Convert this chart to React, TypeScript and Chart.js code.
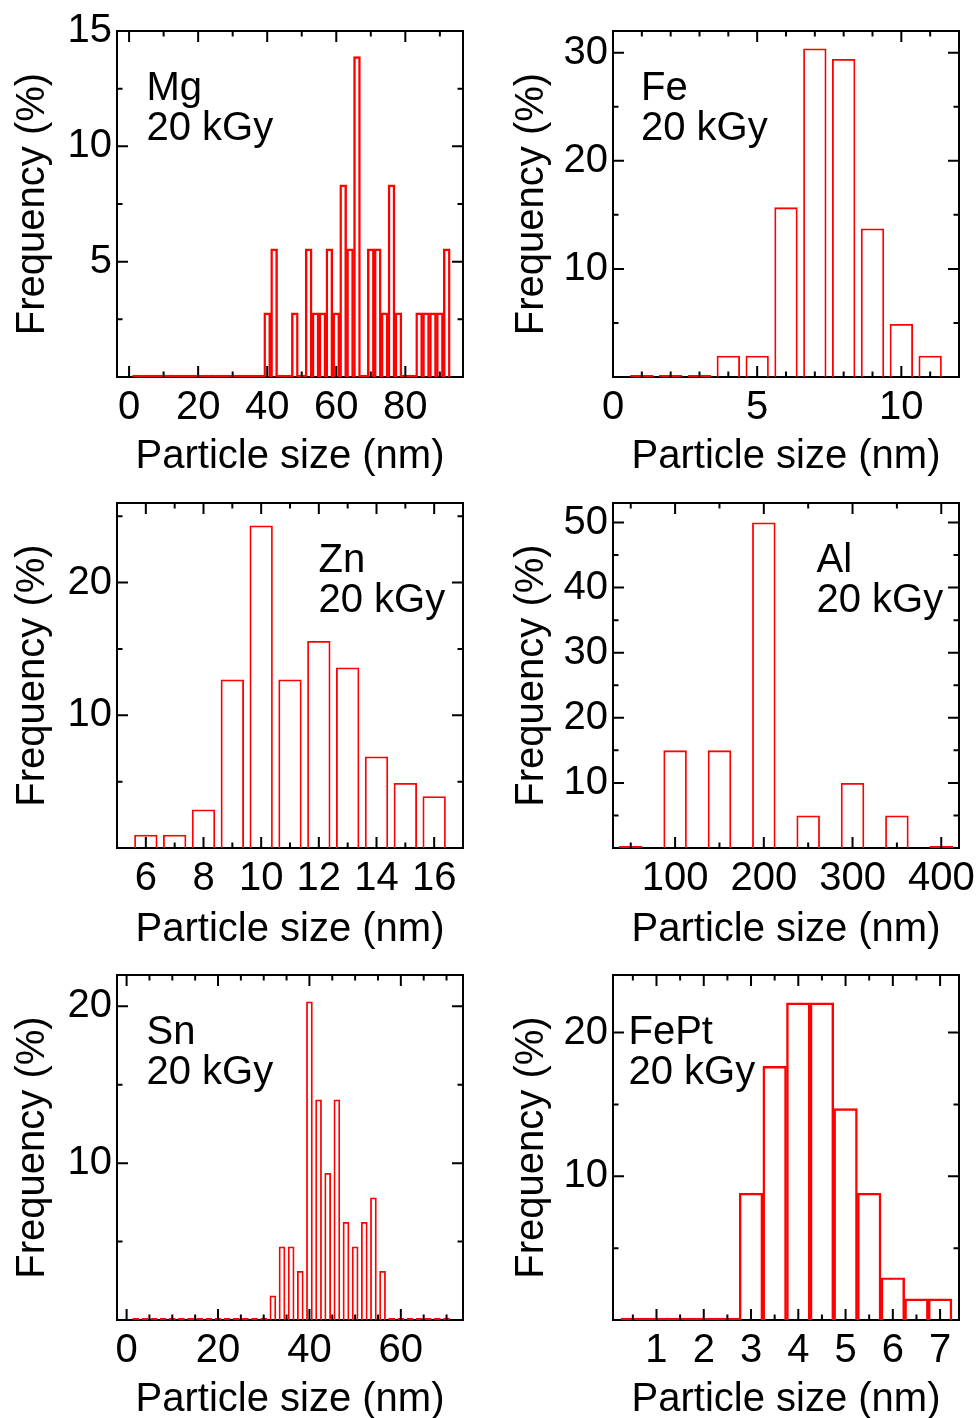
import React, { useEffect, useRef } from "react";
import { Chart, registerables } from "chart.js";

Chart.register(...registerables);

const RED = "#ff0000";
const FONT_FAMILY = "'Liberation Sans', Arial, Helvetica, sans-serif";
const FONT_SIZE = 40;

// ---------- Data (bin centres and frequency %) ----------
const mgBins = [2, 4, 6, 8, 10, 12, 14, 16, 18, 20, 22, 24, 26, 28, 30, 32, 34, 36, 38, 40, 42, 44, 46, 48, 50, 52, 54, 56, 58, 60, 62, 64, 66, 68, 70, 72, 74, 76, 78, 80, 82, 84, 86, 88, 90, 92];
const mgFreq = [0, 0, 0, 0, 0, 0, 0, 0, 0, 0, 0, 0, 0, 0, 0, 0, 0, 0, 0, 2.78, 5.56, 0, 0, 2.78, 0, 5.56, 2.78, 2.78, 5.56, 2.78, 8.33, 5.56, 13.89, 0, 5.56, 5.56, 2.78, 8.33, 2.78, 0, 0, 2.78, 2.78, 2.78, 2.78, 5.56];

const feBins = [1, 2, 3, 4, 5, 6, 7, 8, 9, 10, 11];
const feFreq = [0, 0, 0, 1.96, 1.96, 15.69, 30.39, 29.41, 13.73, 4.9, 1.96];

const znBins = [6, 7, 8, 9, 10, 11, 12, 13, 14, 15, 16];
const znFreq = [1.0, 1.0, 2.9, 12.7, 24.3, 12.7, 15.6, 13.6, 6.9, 4.9, 3.9];

const alBins = [50, 100, 150, 200, 250, 300, 350, 400];
const alFreq = [0, 15, 15, 50, 5, 10, 5, 0];

const snBins = [2, 4, 6, 8, 10, 12, 14, 16, 18, 20, 22, 24, 26, 28, 30, 32, 34, 36, 38, 40, 42, 44, 46, 48, 50, 52, 54, 56, 58, 60, 62, 64, 66, 68, 70];
const snFreq = [0, 0, 0, 0, 0, 0, 0, 0, 0, 0, 0, 0, 0, 0, 0, 1.56, 4.69, 4.69, 3.13, 20.31, 14.06, 9.38, 14.06, 6.25, 4.69, 6.25, 7.81, 3.13, 0, 0, 0, 0, 0, 0, 0];

const feptBins = [0.5, 1, 1.5, 2, 2.5, 3, 3.5, 4, 4.5, 5, 5.5, 6, 6.5, 7];
const feptFreq = [0, 0, 0, 0, 0, 8.82, 17.65, 22.06, 22.06, 14.71, 8.82, 2.94, 1.47, 1.47];

// ---------- Tick values ----------
const mgXLabels = [0, 20, 40, 60, 80];
const mgXMinor = [10, 30, 50, 70, 90];
const mgYLabels = [5, 10, 15];
const mgYMinor = [2.5, 7.5, 12.5];

const feXLabels = [0, 5, 10];
const feXMinor = [1, 2, 3, 4, 6, 7, 8, 9, 11];
const feYLabels = [10, 20, 30];
const feYMinor = [5, 15, 25];

const znXLabels = [6, 8, 10, 12, 14, 16];
const znXMinor = [7, 9, 11, 13, 15];
const znYLabels = [10, 20];
const znYMinor = [5, 15, 25];

const alXLabels = [100, 200, 300, 400];
const alXMinor = [50, 150, 250, 350];
const alYLabels = [10, 20, 30, 40, 50];
const alYMinor = [5, 15, 25, 35, 45];

const snXLabels = [0, 20, 40, 60];
const snXMinor = [5, 10, 15, 25, 30, 35, 45, 50, 55, 65, 70];
const snYLabels = [10, 20];
const snYMinor = [5, 15];

const feptXLabels = [1, 2, 3, 4, 5, 6, 7];
const feptXMinor = [0.5, 1.5, 2.5, 3.5, 4.5, 5.5, 6.5];
const feptYLabels = [10, 20];
const feptYMinor = [5, 15];

const X_TITLE = "Particle size (nm)";
const Y_TITLE = "Frequency (%)";
const DOSE = "20 kGy";

// ---------- Layout ----------
const PAD_TOP = 40;
const X_AXIS_H = 108;
const COLS = [
  { left: 0, width: 488, yW: 117, padRight: 25, yTitlePad: 9.3 },
  { left: 488, width: 500, yW: 125, padRight: 29, yTitlePad: 19.6 },
];
const ROWS = [
  { chartTop: 31, chartBottom: 377, xTitlePad: 4 },
  { chartTop: 503, chartBottom: 848, xTitlePad: 2 },
  { chartTop: 975, chartBottom: 1320, xTitlePad: 4 },
];

type PanelCfg = {
  name: string;
  bins: number[];
  freq: number[];
  xMin: number;
  xMax: number;
  yMax: number;
  xLabels: number[];
  xMinor: number[];
  yLabels: number[];
  yMinor: number[];
  barRatio: number;
  col: number;
  row: number;
  labelDx: number;
};

const panels: PanelCfg[] = [
  { name: "Mg", bins: mgBins, freq: mgFreq, xMin: -3.5, xMax: 96.7, yMax: 15, xLabels: mgXLabels, xMinor: mgXMinor, yLabels: mgYLabels, yMinor: mgYMinor, barRatio: 1, col: 0, row: 0, labelDx: 29.5 },
  { name: "Fe", bins: feBins, freq: feFreq, xMin: 0, xMax: 12, yMax: 32, xLabels: feXLabels, xMinor: feXMinor, yLabels: feYLabels, yMinor: feYMinor, barRatio: 0.81, col: 1, row: 0, labelDx: 28 },
  { name: "Zn", bins: znBins, freq: znFreq, xMin: 5, xMax: 17, yMax: 26, xLabels: znXLabels, xMinor: znXMinor, yLabels: znYLabels, yMinor: znYMinor, barRatio: 0.81, col: 0, row: 1, labelDx: 201.5 },
  { name: "Al", bins: alBins, freq: alFreq, xMin: 30, xMax: 420, yMax: 53, xLabels: alXLabels, xMinor: alXMinor, yLabels: alYLabels, yMinor: alYMinor, barRatio: 0.53, col: 1, row: 1, labelDx: 203.5 },
  { name: "Sn", bins: snBins, freq: snFreq, xMin: -2.1, xMax: 73.6, yMax: 22, xLabels: snXLabels, xMinor: snXMinor, yLabels: snYLabels, yMinor: snYMinor, barRatio: 0.73, col: 0, row: 2, labelDx: 29.5 },
  { name: "FePt", bins: feptBins, freq: feptFreq, xMin: 0.08, xMax: 7.4, yMax: 24, xLabels: feptXLabels, xMinor: feptXMinor, yLabels: feptYLabels, yMinor: feptYMinor, barRatio: 1, col: 1, row: 2, labelDx: 15.5 },
];

const MAJOR_LEN = 11;
const MINOR_LEN = 5.5;

const frameTicksPlugin = {
  id: "frameTicks",
  beforeDatasetsDraw(chart: any) {
    const { ctx, chartArea } = chart;
    const { left, right, top, bottom } = chartArea;
    ctx.save();
    ctx.strokeStyle = "#000";
    ctx.lineWidth = 2;
    ctx.strokeRect(left, top, right - left, bottom - top);
    ctx.restore();
  },
  afterDatasetsDraw(chart: any, _args: any, opts: any) {
    const { ctx, chartArea } = chart;
    const { left, right, top, bottom } = chartArea;
    const xs = chart.scales.x;
    const ys = chart.scales.y;
    ctx.save();
    ctx.strokeStyle = "#000";
    ctx.lineWidth = 2;
    ctx.lineCap = "butt";
    ctx.beginPath();
    const xTick = (v: number, len: number) => {
      const p = xs.getPixelForValue(v);
      if (p < left - 0.5 || p > right + 0.5) return;
      ctx.moveTo(p, bottom);
      ctx.lineTo(p, bottom - len);
      ctx.moveTo(p, top);
      ctx.lineTo(p, top + len);
    };
    const yTick = (v: number, len: number) => {
      const p = ys.getPixelForValue(v);
      if (p < top - 0.5 || p > bottom + 0.5) return;
      ctx.moveTo(left, p);
      ctx.lineTo(left + len, p);
      ctx.moveTo(right, p);
      ctx.lineTo(right - len, p);
    };
    (opts.xMajor || []).forEach((v: number) => xTick(v, MAJOR_LEN));
    (opts.xMinor || []).forEach((v: number) => xTick(v, MINOR_LEN));
    (opts.yMajor || []).forEach((v: number) => yTick(v, MAJOR_LEN));
    (opts.yMinor || []).forEach((v: number) => yTick(v, MINOR_LEN));
    ctx.stroke();
    ctx.restore();
  },
};

const panelLabelPlugin = {
  id: "panelLabel",
  afterDraw(chart: any, _args: any, opts: any) {
    const { ctx, chartArea } = chart;
    ctx.save();
    ctx.font = `${FONT_SIZE}px ${FONT_FAMILY}`;
    ctx.fillStyle = "#000";
    ctx.textAlign = "left";
    ctx.textBaseline = "alphabetic";
    (opts.lines || []).forEach((line: string, i: number) => {
      ctx.fillText(line, chartArea.left + opts.dx, chartArea.top + 69 + i * 40);
    });
    ctx.restore();
  },
};

function Panel({ cfg }: { cfg: PanelCfg }) {
  const ref = useRef<HTMLCanvasElement>(null);
  const col = COLS[cfg.col];
  const row = ROWS[cfg.row];
  const canvasTop = row.chartTop - PAD_TOP;
  const height = row.chartBottom - row.chartTop + PAD_TOP + X_AXIS_H;
  const width = col.width;

  useEffect(() => {
    if (!ref.current) return;
    const font = { family: FONT_FAMILY, size: FONT_SIZE };
    const data = cfg.bins.map((b, i) => ({ x: b, y: cfg.freq[i] }));
    const chart = new Chart(ref.current, {
      type: "bar",
      data: {
        datasets: [
          {
            data: data as any,
            borderColor: RED,
            borderWidth: 1.8,
            borderSkipped: "start",
            backgroundColor: (c: any) => (c.raw && c.raw.y === 0 ? RED : "rgba(0,0,0,0)"),
            minBarLength: 2,
            barPercentage: cfg.barRatio,
            categoryPercentage: 1,
          } as any,
        ],
      },
      options: {
        animation: false,
        responsive: false,
        events: [],
        layout: { padding: { top: PAD_TOP, right: col.padRight, bottom: 0, left: 0 } },
        plugins: {
          legend: { display: false },
          tooltip: { enabled: false },
          frameTicks: {
            xMajor: cfg.xLabels,
            xMinor: cfg.xMinor,
            yMajor: cfg.yLabels,
            yMinor: cfg.yMinor,
          },
          panelLabel: { lines: [cfg.name, DOSE], dx: cfg.labelDx },
        } as any,
        scales: {
          x: {
            type: "linear",
            min: cfg.xMin,
            max: cfg.xMax,
            offset: false,
            grid: { display: false, drawTicks: false, offset: false },
            border: { display: false },
            ticks: {
              autoSkip: false,
              maxRotation: 0,
              minRotation: 0,
              padding: 7,
              color: "#000",
              font,
              callback: (v: any) => String(v),
            },
            afterBuildTicks: (s: any) => {
              s.ticks = cfg.xLabels.map((v) => ({ value: v }));
            },
            afterFit: (s: any) => {
              s.height = X_AXIS_H;
            },
            title: {
              display: true,
              text: X_TITLE,
              color: "#000",
              font,
              padding: { top: 0, bottom: row.xTitlePad },
            },
          },
          y: {
            type: "linear",
            min: 0,
            max: cfg.yMax,
            grid: { display: false, drawTicks: false },
            border: { display: false },
            ticks: {
              autoSkip: false,
              padding: 5,
              color: "#000",
              font,
              callback: (v: any) => String(v),
            },
            afterBuildTicks: (s: any) => {
              s.ticks = cfg.yLabels.map((v) => ({ value: v }));
            },
            afterFit: (s: any) => {
              s.width = col.yW;
            },
            title: {
              display: true,
              text: Y_TITLE,
              color: "#000",
              font,
              padding: { top: col.yTitlePad, bottom: 0 },
            },
          },
        } as any,
      },
      plugins: [frameTicksPlugin as any, panelLabelPlugin as any],
    });
    return () => chart.destroy();
  }, []);

  return (
    <canvas
      ref={ref}
      width={width}
      height={height}
      style={{ position: "absolute", left: col.left, top: canvasTop, width, height, display: "block" }}
    />
  );
}

export default function App() {
  return (
    <div
      style={{
        position: "absolute",
        left: 0,
        top: 0,
        width: 977,
        height: 1418,
        overflow: "hidden",
        background: "#fff",
      }}
    >
      {panels.map((p) => (
        <Panel key={p.name} cfg={p} />
      ))}
    </div>
  );
}
